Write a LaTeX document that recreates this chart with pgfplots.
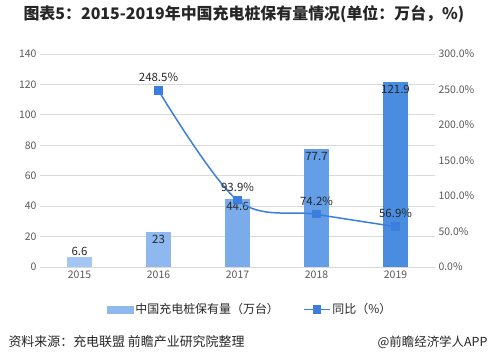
\documentclass[border=0pt]{standalone}
\usepackage{pgfplots}
\pgfplotsset{compat=1.18}
\usepackage{fontspec}
\setmainfont{Noto Sans CJK SC}
\definecolor{bA}{HTML}{A4C6F2}
\definecolor{bB}{HTML}{8FB9EE}
\definecolor{bC}{HTML}{7AABEA}
\definecolor{bD}{HTML}{639EE7}
\definecolor{bE}{HTML}{4A8DE0}
\definecolor{lineC}{HTML}{3B7EDD}
\definecolor{gridC}{HTML}{D9D9D9}
\definecolor{tickC}{HTML}{595959}
\definecolor{txtC}{HTML}{262626}
\begin{document}
\begin{tikzpicture}[x=1bp,y=1bp]
\path[use as bounding box] (0,0) rectangle (490,362);
\begin{axis}[
  at={(40bp,95bp)}, anchor=south west,
  scale only axis, width=395bp, height=213bp,
  xmin=-0.5, xmax=4.5, ymin=0, ymax=140,
  xtick={0,1,2,3,4}, xticklabels={2015,2016,2017,2018,2019},
  ytick={0,20,...,140},
  axis x line*=bottom, axis y line*=left,
  x axis line style={draw=gridC, -},
  y axis line style={draw=none},
  major tick length=0pt,
  ymajorgrids, grid style={gridC, line width=0.8pt},
  tick label style={font=\fontsize{10.5}{12}\selectfont, text=tickC},
  /pgf/number format/assume math mode=true,
  enlargelimits=false, clip=false,
]
\addplot[ybar, bar width=25bp, bar shift=0pt, fill=bA, draw=none] coordinates {(0,6.6)};
\addplot[ybar, bar width=25bp, bar shift=0pt, fill=bB, draw=none] coordinates {(1,23)};
\addplot[ybar, bar width=25bp, bar shift=0pt, fill=bC, draw=none] coordinates {(2,44.6)};
\addplot[ybar, bar width=25bp, bar shift=0pt, fill=bD, draw=none] coordinates {(3,77.7)};
\addplot[ybar, bar width=25bp, bar shift=0pt, fill=bE, draw=none] coordinates {(4,121.9)};
\begin{scope}[every node/.style={font=\fontsize{11.5}{13}\selectfont, text=txtC}]
\node[anchor=south, inner sep=1.5bp] at (axis cs:0,6.6) {6.6};
\node[anchor=north] at (axis cs:1,23) {23};
\node[anchor=north] at (axis cs:2,44.6) {44.6};
\node[anchor=north] at (axis cs:3,77.7) {77.7};
\node[anchor=north] at (axis cs:4,121.9) {121.9};
\end{scope}
\end{axis}
\begin{axis}[
  at={(40bp,95bp)}, anchor=south west,
  scale only axis, width=395bp, height=213bp,
  xmin=-0.5, xmax=4.5, ymin=0, ymax=300,
  axis x line=none, axis y line*=right,
  y axis line style={draw=none},
  major tick length=0pt,
  ytick={0,50,...,300},
  yticklabel={\pgfmathprintnumber[fixed,fixed zerofill,precision=1]{\tick}\%},
  tick label style={font=\fontsize{10.5}{12}\selectfont, text=tickC},
  /pgf/number format/assume math mode=true,
  enlargelimits=false, clip=false,
  legend columns=2,
  legend style={at={(0.532,-0.2)}, anchor=center, draw=none, fill=none,
    font=\fontsize{12}{13}\selectfont, text=txtC,
    /tikz/every even column/.append style={column sep=22bp}},
]
\addlegendimage{legend image code/.code={\fill[bB] (0bp,-3.5bp) rectangle (26bp,3.5bp);}}
\addlegendentry{中国充电桩保有量（万台）}
\addplot[lineC, line width=1.5pt, smooth, tension=0.55, mark=square*, mark size=3.4bp, mark options={fill=lineC, draw=lineC},
  legend image code/.code={\draw[lineC, line width=1.5pt] (0bp,0bp) -- (26bp,0bp); \fill[lineC] (9.6bp,-3.4bp) rectangle (16.4bp,3.4bp);}]
  coordinates {(1,248.5) (2,93.9) (3,74.2) (4,56.9)};
\addlegendentry{同比（\%）}
\begin{scope}[every node/.style={font=\fontsize{11.5}{13}\selectfont, text=txtC}]
\node[anchor=south] at ([yshift=5bp]axis cs:1,248.5) {248.5\%};
\node[anchor=south] at ([yshift=5bp]axis cs:2,93.9) {93.9\%};
\node[anchor=south] at ([yshift=5bp]axis cs:3,74.2) {74.2\%};
\node[anchor=south] at ([yshift=5bp]axis cs:4,56.9) {56.9\%};
\end{scope}
\end{axis}
\node[anchor=west, font=\bfseries\fontsize{16}{18}\selectfont, text=txtC] at (20,348) {图表5：2015-2019年中国充电桩保有量情况(单位：万台，\%)};
\node[anchor=west, font=\fontsize{13}{15}\selectfont, text=txtC] at (5,20) {资料来源：充电联盟 前瞻产业研究院整理};
\node[anchor=east, font=\fontsize{12.5}{15}\selectfont, text=txtC] at (491,20) {@前瞻经济学人APP};
\end{tikzpicture}
\end{document}
